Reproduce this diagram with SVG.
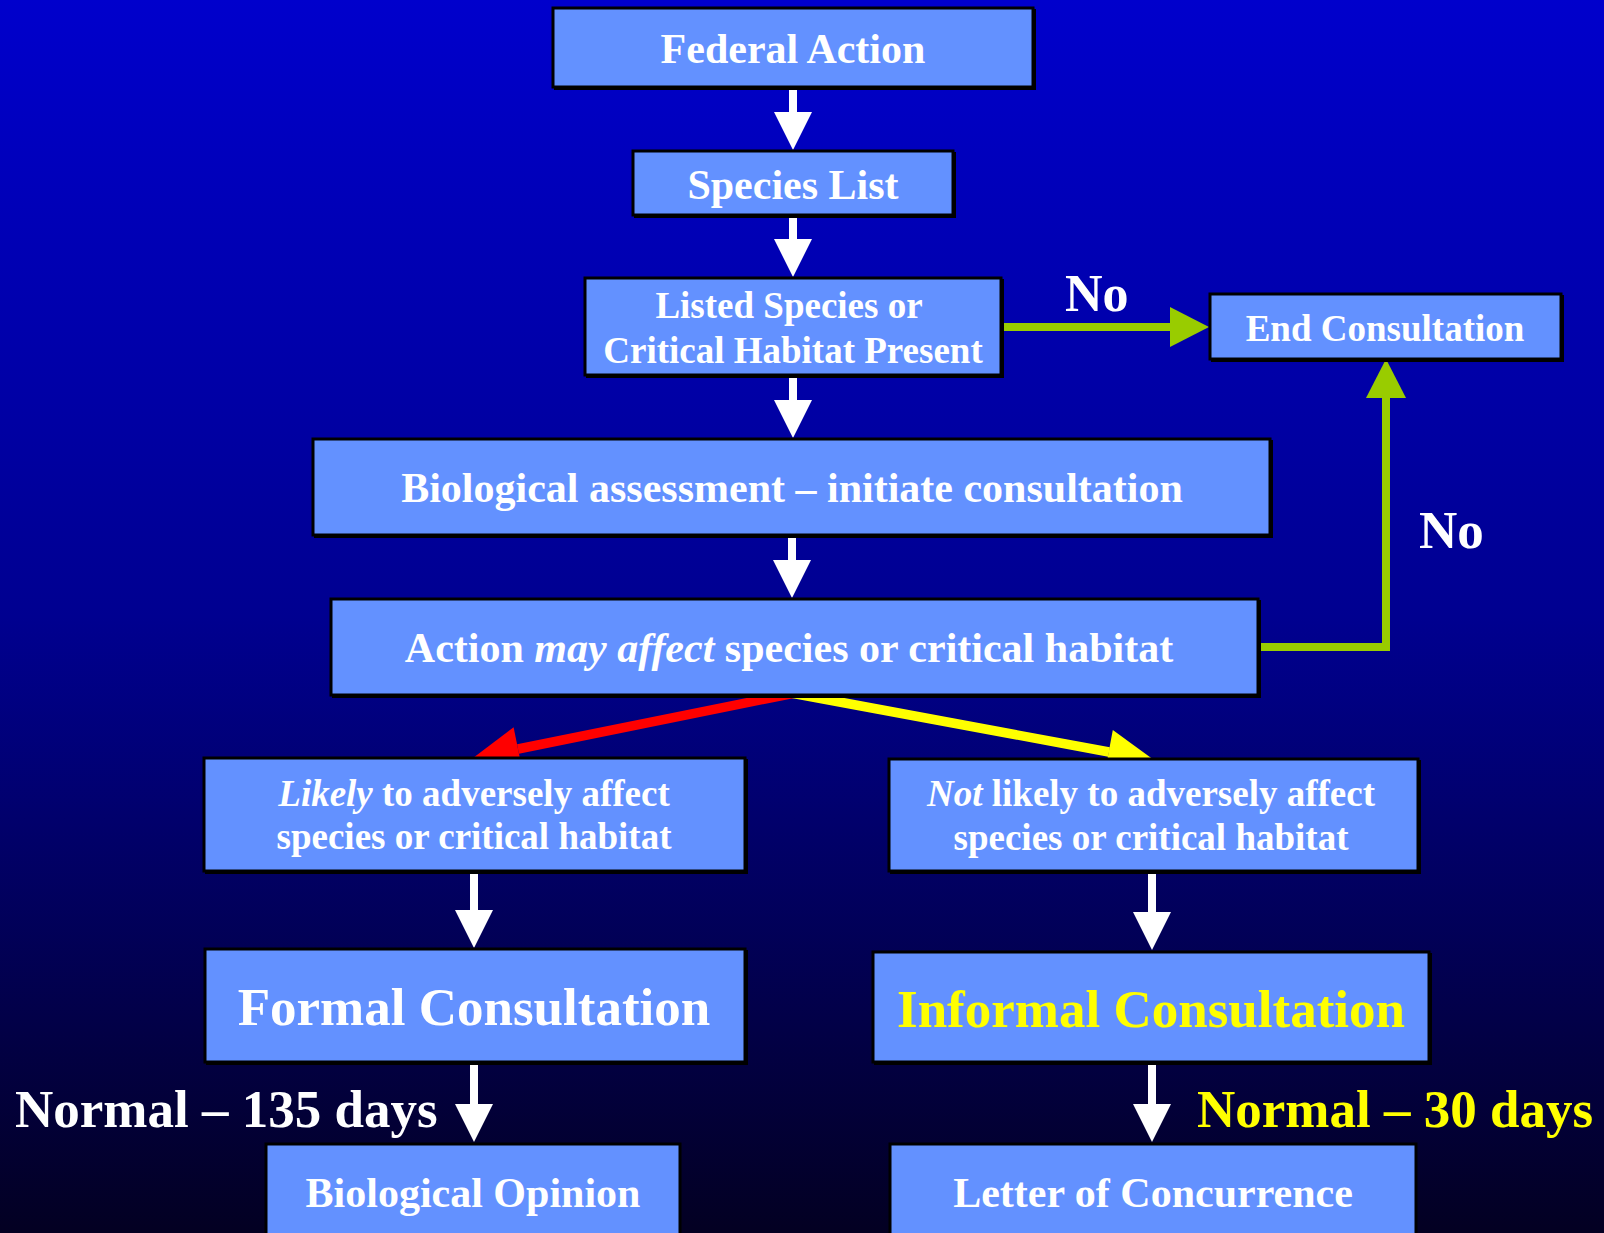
<svg xmlns="http://www.w3.org/2000/svg" width="1604" height="1233" viewBox="0 0 1604 1233">
<defs>
<linearGradient id="bg" x1="0" y1="0" x2="0" y2="1">
<stop offset="0" stop-color="#0000CC"/>
<stop offset="0.5" stop-color="#000090"/>
<stop offset="1" stop-color="#030022"/>
</linearGradient>
<style>
.box{fill:#6391FF;stroke:#000;stroke-width:3}
.sh{fill:#000}
.t{font-family:"Liberation Serif","Times New Roman",serif;font-weight:bold;fill:#fff;text-anchor:middle}
.l{font-family:"Liberation Serif","Times New Roman",serif;font-weight:bold;fill:#fff}
.w{fill:#fff}
.g{fill:none;stroke:#99CC00;stroke-width:8}
.gh{fill:#99CC00}
</style>
</defs>
<rect x="0" y="0" width="1604" height="1233" fill="url(#bg)"/>

<g id="connectors">
<path class="w" d="M789,87 H797 V112 H812 L793,150 L774,112 H789 Z"/>
<path class="w" d="M789,215 H797 V239 H812 L793,277 L774,239 H789 Z"/>
<path class="w" d="M789,375 H797 V400 H812 L793,438 L774,400 H789 Z"/>
<path class="w" d="M788,535 H796 V560 H811 L792,598 L773,560 H788 Z"/>
<path class="w" d="M470,871 H478 V910 H493 L474,948 L455,910 H470 Z"/>
<path class="w" d="M1148,871 H1156 V912 H1171 L1152,950 L1133,912 H1148 Z"/>
<path class="w" d="M470,1062 H478 V1104 H493 L474,1142 L455,1104 H470 Z"/>
<path class="w" d="M1148,1063 H1156 V1104 H1171 L1152,1142 L1133,1104 H1148 Z"/>
<line class="g" x1="1001" y1="327" x2="1172" y2="327"/>
<polygon class="gh" points="1170,307 1209,327 1170,347"/>
<polyline class="g" points="1257,647 1386,647 1386,396"/>
<polygon class="gh" points="1366,398 1386,359 1406,398"/>
<line x1="795" y1="693" x2="518" y2="749" stroke="#FF0000" stroke-width="9.5"/>
<polygon fill="#FF0000" points="473,758 513.6,727.2 522.4,770.4"/>
<line x1="791" y1="693" x2="1109" y2="752" stroke="#FFFF00" stroke-width="9.5"/>
<polygon fill="#FFFF00" points="1154,760 1112.8,730.1 1104.8,773.3"/>
</g>

<g id="federal-action">
<rect class="sh" x="554" y="9" width="482" height="81"/>
<rect class="box" x="553" y="8" width="480" height="79"/>
<text class="t" x="793" y="63" font-size="42">Federal Action</text>
</g>
<g id="species-list">
<rect class="sh" x="634" y="152" width="322" height="66"/>
<rect class="box" x="633" y="151" width="320" height="64"/>
<text class="t" x="793" y="199" font-size="42">Species List</text>
</g>
<g id="listed-species">
<rect class="sh" x="586" y="279" width="418" height="99"/>
<rect class="box" x="585" y="278" width="416" height="97"/>
<text class="t" font-size="37"><tspan x="789" y="318">Listed Species or</tspan><tspan x="793" y="363">Critical Habitat Present</tspan></text>
</g>
<g id="end-consultation">
<rect class="sh" x="1211" y="295" width="353" height="67"/>
<rect class="box" x="1210" y="294" width="351" height="65"/>
<text class="t" x="1385" y="341" font-size="37">End Consultation</text>
</g>
<g id="biological-assessment">
<rect class="sh" x="314" y="440" width="959" height="98"/>
<rect class="box" x="313" y="439" width="957" height="96"/>
<text class="t" x="792" y="502" font-size="42">Biological assessment – initiate consultation</text>
</g>
<g id="may-affect">
<rect class="sh" x="332" y="600" width="929" height="98"/>
<rect class="box" x="331" y="599" width="927" height="96"/>
<text class="t" x="789" y="662" font-size="42">Action <tspan font-style="italic">may affect</tspan> species or critical habitat</text>
</g>
<g id="likely">
<rect class="sh" x="205" y="759" width="543" height="115"/>
<rect class="box" x="204" y="758" width="541" height="113"/>
<text class="t" font-size="37"><tspan x="474" y="806"><tspan font-style="italic">Likely</tspan> to adversely affect</tspan><tspan x="474" y="849">species or critical habitat</tspan></text>
</g>
<g id="not-likely">
<rect class="sh" x="890" y="760" width="531" height="114"/>
<rect class="box" x="889" y="759" width="529" height="112"/>
<text class="t" font-size="37"><tspan x="1151" y="806"><tspan font-style="italic">Not</tspan> likely to adversely affect</tspan><tspan x="1151" y="850">species or critical habitat</tspan></text>
</g>
<g id="formal">
<rect class="sh" x="206" y="950" width="542" height="115"/>
<rect class="box" x="205" y="949" width="540" height="113"/>
<text class="t" x="474" y="1025" font-size="53">Formal Consultation</text>
</g>
<g id="informal">
<rect class="sh" x="874" y="953" width="558" height="112"/>
<rect class="box" x="873" y="952" width="556" height="110"/>
<text class="t" x="1151" y="1027" font-size="53" style="fill:#FFFF00">Informal Consultation</text>
</g>
<g id="biological-opinion">
<rect class="box" x="266" y="1144" width="414" height="100"/>
<text class="t" x="473" y="1207" font-size="42">Biological Opinion</text>
</g>
<g id="letter-of-concurrence">
<rect class="box" x="890" y="1144" width="526" height="100"/>
<text class="t" x="1153" y="1207" font-size="42">Letter of Concurrence</text>
</g>

<g id="labels">
<text class="l" x="1065" y="311" font-size="52">No</text>
<text class="l" x="1419" y="548" font-size="53">No</text>
<text class="l" x="15" y="1127" font-size="53">Normal – 135 days</text>
<text class="l" x="1197" y="1127" font-size="53" style="fill:#FFFF00">Normal – 30 days</text>
</g>
</svg>
